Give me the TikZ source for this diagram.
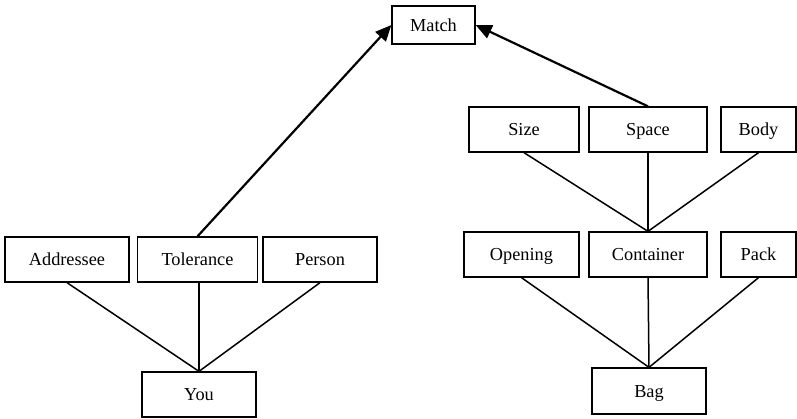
\documentclass[tikz,border=0pt]{standalone}
\usepackage{fontspec}
\setmainfont{Liberation Serif}
\usetikzlibrary{arrows.meta}
\tikzset{
  box/.style={draw, line width=1.3pt, inner sep=0pt, minimum height=45pt,
    text height=14pt, text depth=2pt,
    font=\fontsize{18.3}{20}\selectfont},
  link/.style={line width=1.5pt},
  arrowlink/.style={line width=2.2pt, -{Triangle[length=16pt,width=14pt]}}
}
\begin{document}
\begin{tikzpicture}[x=1pt,y=-1pt]
\useasboundingbox (0,0) rectangle (797,418);
% top
\node[box, minimum width=83pt, minimum height=38pt] (match) at (433.5,25) {Match};
% right group
\node[box, minimum width=110pt] (size) at (524,129.5) {Size};
\node[box, minimum width=118pt] (space) at (648,129.5) {Space};
\node[box, minimum width=75pt] (body) at (758.5,129.5) {Body};
\node[box, minimum width=115pt] (opening) at (521.5,254.5) {Opening};
\node[box, minimum width=118pt] (container) at (648,254.5) {Container};
\node[box, minimum width=75pt] (pack) at (758.5,254.5) {Pack};
\node[box, minimum width=114pt, minimum height=46pt] (bag) at (649,391) {Bag};
% left group
\node[box, minimum width=124pt] (addressee) at (67,259.5) {Addressee};
\node[box, minimum width=120pt] (tolerance) at (197.5,259.5) {Tolerance};
\node[box, minimum width=114pt] (person) at (320,259.5) {Person};
\node[box, minimum width=114pt] (you) at (199,394.5) {You};
% connectors
\draw[link] (size.south) -- (container.north);
\draw[link] (space.south) -- (container.north);
\draw[link] (body.south) -- (container.north);
\draw[link] (opening.south) -- (bag.north);
\draw[link] (container.south) -- (bag.north);
\draw[link] (pack.south) -- (bag.north);
\draw[link] (addressee.south) -- (you.north);
\draw[link] (you.north |- tolerance.south) -- (you.north);
\draw[link] (person.south) -- (you.north);
\draw[arrowlink] (tolerance.north) -- (match.west);
\draw[arrowlink] (space.north) -- (match.east);
\end{tikzpicture}
\end{document}
